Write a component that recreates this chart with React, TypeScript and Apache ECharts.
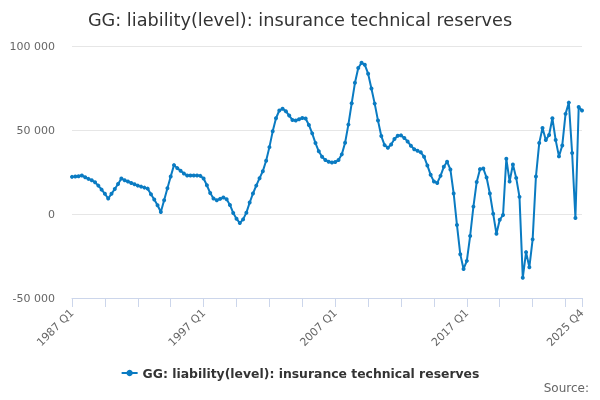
import React, { useEffect, useRef } from "react";
import * as echarts from "echarts";

// quarterly values, 1987 Q1 .. 2025 Q4
const values1987to1996 = [
  22100, 22300, 22500, 22900, 21900, 20900, 20100, 18900, 16900, 14500,
  12000, 9200, 12000, 14900, 17900, 21100, 20100, 19300, 18500, 17700,
  16900, 16300, 15700, 15100, 11800, 8600, 5200, 1200, 8200, 15300,
  22300, 29100, 27300, 25700, 24100, 22900, 22900, 22900, 22900, 22700,
];
const values1997to2006 = [
  21100, 17100, 12500, 9200, 8200, 9000, 9800, 8800, 5400, 600,
  -2800, -5400, -3200, 800, 6800, 12200, 16900, 21300, 25500, 31700,
  39800, 49200, 57000, 61600, 62700, 61200, 58600, 56000, 55600, 56400,
  57200, 56800, 53000, 48000, 42200, 37300, 34100, 32100, 31100, 30700,
];
const values2007to2016 = [
  30900, 32100, 35500, 42400, 53200, 65900, 78100, 86900, 90000, 88800,
  83500, 74700, 65700, 55600, 46400, 41000, 39400, 41400, 44600, 46600,
  46800, 45200, 43200, 40600, 38600, 37600, 36700, 34100, 28900, 23300,
  19300, 18500, 22700, 28100, 31100, 26500, 12200, -6600, -23900, -32700,
];
const values2017to2025 = [
  -27900, -13100, 4400, 19100, 26700, 27100, 21700, 12200, 200, -11800,
  -3400, -600, 32900, 19300, 29500, 21500, 10200, -38000, -22700, -31700,
  -15100, 22300, 42200, 51200, 44000, 47000, 57000, 44000, 34300, 40800,
  59600, 66300, 36300, -2400, 63700, 61600,
];

const seriesName = "GG: liability(level): insurance technical reserves";
const firstYear = 1987;
const lastYear = 2025;
const yTicks = [-50000, 0, 50000, 100000];

const quarters: string[] = [];
for (let y = firstYear; y <= lastYear; y++) {
  for (let q = 1; q <= 4; q++) quarters.push(`${y} Q${q}`);
}
const values = [
  ...values1987to1996,
  ...values1997to2006,
  ...values2007to2016,
  ...values2017to2025,
];

const fmt = (v: number) => {
  const s = Math.abs(v).toString().replace(/\B(?=(\d{3})+(?!\d))/g, " ");
  return v < 0 ? "-" + s : s;
};

const App = () => {
  const chartRef = useRef<HTMLDivElement | null>(null);

  useEffect(() => {
    const chart = echarts.init(chartRef.current as HTMLDivElement, undefined, {
      renderer: "svg",
    });
    const last = quarters.length - 1;
    chart.setOption({
      animation: false,
      textStyle: { fontFamily: "DejaVu Sans" },
      title: {
        text: seriesName,
        left: "center",
        top: 6,
        textStyle: {
          fontFamily: "DejaVu Sans",
          fontSize: 17.7,
          fontWeight: "normal",
          color: "#333333",
        },
      },
      legend: {
        bottom: 16,
        left: "center",
        itemWidth: 16,
        itemHeight: 8,
        textStyle: {
          fontFamily: "DejaVu Sans",
          fontSize: 12.4,
          fontWeight: "bold",
          color: "#333333",
        },
        data: [seriesName],
      },
      graphic: [
        {
          type: "text",
          right: 11,
          top: 382,
          style: {
            text: "Source:",
            font: "12px 'DejaVu Sans'",
            fill: "#666666",
          },
        },
      ],
      grid: { left: 72, right: 18, top: 46, bottom: 102 },
      xAxis: {
        type: "category",
        data: quarters,
        boundaryGap: false,
        axisLine: { onZero: false, lineStyle: { color: "#ccd6eb" } },
        axisTick: {
          length: 9,
          lineStyle: { color: "#ccd6eb" },
          interval: (i: number) => i % 10 === 0 || i === last,
        },
        axisLabel: {
          rotate: 45,
          color: "#666666",
          fontSize: 11,
          margin: 13,
          interval: (i: number) => i % 40 === 0 || i === last,
        },
        splitLine: { show: false },
      },
      yAxis: {
        type: "value",
        min: yTicks[0],
        max: yTicks[yTicks.length - 1],
        interval: 50000,
        axisLine: { show: false },
        axisTick: { show: false },
        axisLabel: {
          color: "#666666",
          fontSize: 11,
          margin: 17,
          formatter: (v: number) => fmt(v),
        },
        splitLine: { lineStyle: { color: "#e6e6e6" } },
      },
      series: [
        {
          name: seriesName,
          type: "line",
          data: values,
          symbol: "circle",
          symbolSize: 4,
          showSymbol: true,
          showAllSymbol: true,
          lineStyle: { width: 2, color: "#0a7bc2" },
          itemStyle: { color: "#0a7bc2" },
        },
      ],
    });
    return () => {
      chart.dispose();
    };
  }, []);

  return (
    <div
      ref={chartRef}
      style={{ position: "fixed", left: 0, top: 0, width: 600, height: 400 }}
    ></div>
  );
};

export default App;
